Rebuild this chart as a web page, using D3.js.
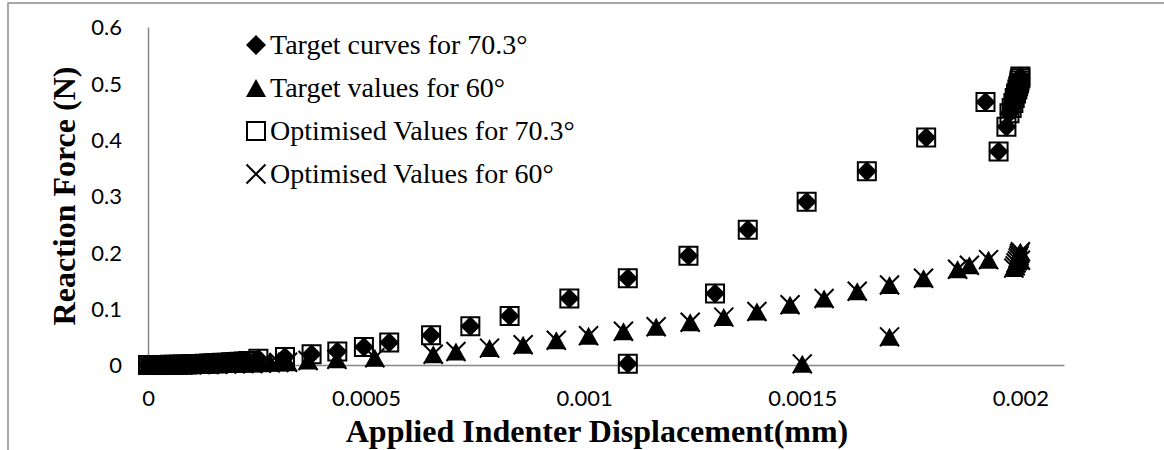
<!DOCTYPE html>
<html>
<head>
<meta charset="utf-8">
<script src="https://cdn.jsdelivr.net/npm/d3@7"></script>
<style>
  body { margin: 0; background: #fff; }
  svg { display: block; }
</style>
</head>
<body>
<svg id="chart" width="1164" height="450"></svg>
<script>
// Indentation data: displacement (mm) and reaction force (N)
const disp70 = [0, 0.000005, 0.00001, 0.000015, 0.00002, 0.00003, 0.00004, 0.00005, 0.00006, 0.00007,
  0.00008, 0.00009, 0.0001, 0.00011, 0.00012, 0.00013, 0.00014, 0.00015, 0.00016, 0.00017,
  0.00018, 0.00019, 0.0002, 0.00021, 0.00022, 0.00023, 0.000253, 0.000314, 0.000375, 0.000434,
  0.000495, 0.000553, 0.000649, 0.000739, 0.000829, 0.000966, 0.0011, 0.0011, 0.001239, 0.0013,
  0.001375, 0.00151, 0.001648, 0.001784, 0.00192, 0.00195, 0.001968, 0.001975, 0.00198, 0.001984,
  0.001987, 0.00199, 0.001993, 0.001995, 0.001997, 0.001998, 0.002, 0.002];
const target70 = [0, 0, 0, 0.0001, 0.0001, 0.0001, 0.0002, 0.0003, 0.0005, 0.0006,
  0.0008, 0.0011, 0.0013, 0.0016, 0.0019, 0.0022, 0.0025, 0.0029, 0.0033, 0.0038,
  0.0042, 0.0047, 0.0052, 0.0057, 0.0063, 0.0069, 0.011, 0.014, 0.019, 0.024,
  0.032, 0.040, 0.053, 0.069, 0.087, 0.118, 0.154, 0.002, 0.194, 0.127,
  0.240, 0.290, 0.344, 0.404, 0.467, 0.379, 0.423, 0.447, 0.456, 0.465,
  0.474, 0.482, 0.489, 0.495, 0.500, 0.505, 0.509, 0.512];
const optim70 = [0, 0, 0, 0.0001, 0.0001, 0.0001, 0.0002, 0.0003, 0.0005, 0.0006,
  0.0008, 0.0011, 0.0013, 0.0016, 0.0019, 0.0022, 0.0025, 0.0029, 0.0033, 0.0038,
  0.0042, 0.0047, 0.0052, 0.0057, 0.0063, 0.0069, 0.011, 0.014, 0.019, 0.024,
  0.032, 0.040, 0.053, 0.069, 0.087, 0.118, 0.154, 0.002, 0.194, 0.127,
  0.240, 0.290, 0.344, 0.404, 0.467, 0.379, 0.423, 0.447, 0.456, 0.465,
  0.474, 0.482, 0.489, 0.495, 0.500, 0.505, 0.509, 0.512];

const disp60 = [0, 0.00001, 0.00002, 0.00003, 0.00004, 0.00005, 0.00006, 0.00007, 0.00008, 0.0001,
  0.00012, 0.00014, 0.00016, 0.00018, 0.0002, 0.00022, 0.00024, 0.00026, 0.00028, 0.0003,
  0.00032, 0.000367, 0.000433, 0.00052, 0.000654, 0.000706, 0.000783, 0.00086, 0.000936, 0.00101,
  0.00109, 0.001165, 0.001243, 0.00132, 0.001396, 0.001472, 0.0015, 0.00155, 0.001626, 0.0017,
  0.0017, 0.001778, 0.001856, 0.001883, 0.001927, 0.001985, 0.001988, 0.00199, 0.001993, 0.001995,
  0.001997, 0.001998, 0.002, 0.002];
const target60 = [0, 0, 0, 0, 0.0001, 0.0001, 0.0002, 0.0002, 0.0003, 0.0005,
  0.0007, 0.001, 0.0013, 0.0016, 0.002, 0.0024, 0.0028, 0.0033, 0.0038, 0.0044,
  0.005, 0.008, 0.010, 0.013, 0.019, 0.024, 0.030, 0.036, 0.044, 0.052,
  0.060, 0.068, 0.076, 0.085, 0.095, 0.107, 0.002, 0.118, 0.131, 0.142,
  0.050, 0.154, 0.170, 0.177, 0.187, 0.172, 0.176, 0.181, 0.185, 0.190,
  0.194, 0.198, 0.201, 0.186];
const optim60 = [0, 0, 0, 0, 0.0001, 0.0001, 0.0002, 0.0002, 0.0003, 0.0005,
  0.0007, 0.001, 0.0013, 0.0016, 0.002, 0.0024, 0.0028, 0.0033, 0.0038, 0.0044,
  0.005, 0.008, 0.010, 0.013, 0.019, 0.024, 0.030, 0.036, 0.044, 0.052,
  0.060, 0.068, 0.076, 0.085, 0.095, 0.107, 0.002, 0.118, 0.131, 0.142,
  0.050, 0.154, 0.170, 0.177, 0.187, 0.172, 0.176, 0.181, 0.185, 0.190,
  0.194, 0.198, 0.201, 0.186];

const xTicks = [0, 0.0005, 0.001, 0.0015, 0.002];
const xTickLabels = ["0", "0.0005", "0.001", "0.0015", "0.002"];
const yTicks = [0, 0.1, 0.2, 0.3, 0.4, 0.5, 0.6];
const yTickLabels = ["0", "0.1", "0.2", "0.3", "0.4", "0.5", "0.6"];
const legendLabels = [
  "Target curves for 70.3\u00B0",
  "Target values for 60\u00B0",
  "Optimised Values for 70.3\u00B0",
  "Optimised Values for 60\u00B0"
];

const svg = d3.select("#chart");
const W = 1164, H = 450;

// outer frame (top and left edges)
svg.append("path")
  .attr("d", `M8,${H} L8,3 L${W},3`)
  .attr("fill", "none").attr("stroke", "#8c8c8c").attr("stroke-width", 1.5);

const x = d3.scaleLinear().domain([0, 0.0021]).range([148, 1064]);
const y = d3.scaleLinear().domain([0, 0.6]).range([365, 27]);

// axes
const xAxis = d3.axisBottom(x).tickValues(xTicks)
  .tickFormat((d, i) => xTickLabels[i]).tickSize(0).tickPadding(25);
const yAxis = d3.axisLeft(y).tickValues(yTicks)
  .tickFormat((d, i) => yTickLabels[i]).tickSize(0).tickPadding(26);

const gx = svg.append("g").attr("transform", `translate(0,${y(0)})`).call(xAxis);
const gy = svg.append("g").attr("transform", `translate(${x(0)},0)`).call(yAxis);
[gx, gy].forEach(g => {
  g.select(".domain").attr("stroke", "#868686").attr("stroke-width", 1.5);
  g.selectAll("text").attr("font-family", "Lato, 'Open Sans', sans-serif")
    .attr("font-size", 22).attr("fill", "#000");
});
gy.selectAll("text").attr("dy", "0.36em");

// axis titles
svg.append("text")
  .attr("x", 597).attr("y", 442)
  .attr("text-anchor", "middle")
  .attr("font-family", "'Liberation Serif', 'Times New Roman', serif")
  .attr("font-weight", "bold").attr("font-size", 32)
  .text("Applied Indenter Displacement(mm)");
svg.append("text")
  .attr("transform", `translate(75,${(y(0) + y(0.6)) / 2}) rotate(-90)`)
  .attr("text-anchor", "middle")
  .attr("font-family", "'Liberation Serif', 'Times New Roman', serif")
  .attr("font-weight", "bold").attr("font-size", 32)
  .text("Reaction Force (N)");

// marker shapes
const diamondPath = d3.symbol().type({
  draw(ctx, size) { const r = Math.sqrt(size) / 2; ctx.moveTo(0, -r); ctx.lineTo(r, 0); ctx.lineTo(0, r); ctx.lineTo(-r, 0); ctx.closePath(); }
}).size(400)();
const trianglePath = d3.symbol().type({
  draw(ctx, size) { const r = Math.sqrt(size) / 2; ctx.moveTo(0, -r * 0.9); ctx.lineTo(r, r * 0.9); ctx.lineTo(-r, r * 0.9); ctx.closePath(); }
}).size(400)();
const squarePath = d3.symbol().type(d3.symbolSquare).size(324)();
const crossPath = d3.symbol().type({
  draw(ctx, size) { const r = Math.sqrt(size) / 2; ctx.moveTo(-r, -r); ctx.lineTo(r, r); ctx.moveTo(r, -r); ctx.lineTo(-r, r); }
}).size(361)();

const series = [
  { xs: disp70, ys: target70, path: diamondPath, fill: "#000", stroke: "none", sw: 0 },
  { xs: disp60, ys: target60, path: trianglePath, fill: "#000", stroke: "none", sw: 0 },
  { xs: disp70, ys: optim70, path: squarePath, fill: "none", stroke: "#000", sw: 2 },
  { xs: disp60, ys: optim60, path: crossPath, fill: "none", stroke: "#000", sw: 2 }
];

series.forEach(s => {
  svg.append("g").selectAll("path")
    .data(s.ys.map((v, i) => [s.xs[i], v]))
    .join("path")
    .attr("d", s.path)
    .attr("transform", d => `translate(${x(d[0])},${y(d[1])})`)
    .attr("fill", s.fill).attr("stroke", s.stroke).attr("stroke-width", s.sw);
});

// legend
const legend = svg.append("g");
const rowY = [45, 88, 131, 174];
series.forEach((s, i) => {
  legend.append("path").attr("d", s.path)
    .attr("transform", `translate(256,${rowY[i]})`)
    .attr("fill", s.fill).attr("stroke", s.stroke).attr("stroke-width", s.sw);
  legend.append("text")
    .attr("x", 270).attr("y", rowY[i] + 9)
    .attr("font-family", "'Liberation Serif', 'Times New Roman', serif")
    .attr("font-size", 28).attr("fill", "#000")
    .text(legendLabels[i]);
});
</script>
</body>
</html>
